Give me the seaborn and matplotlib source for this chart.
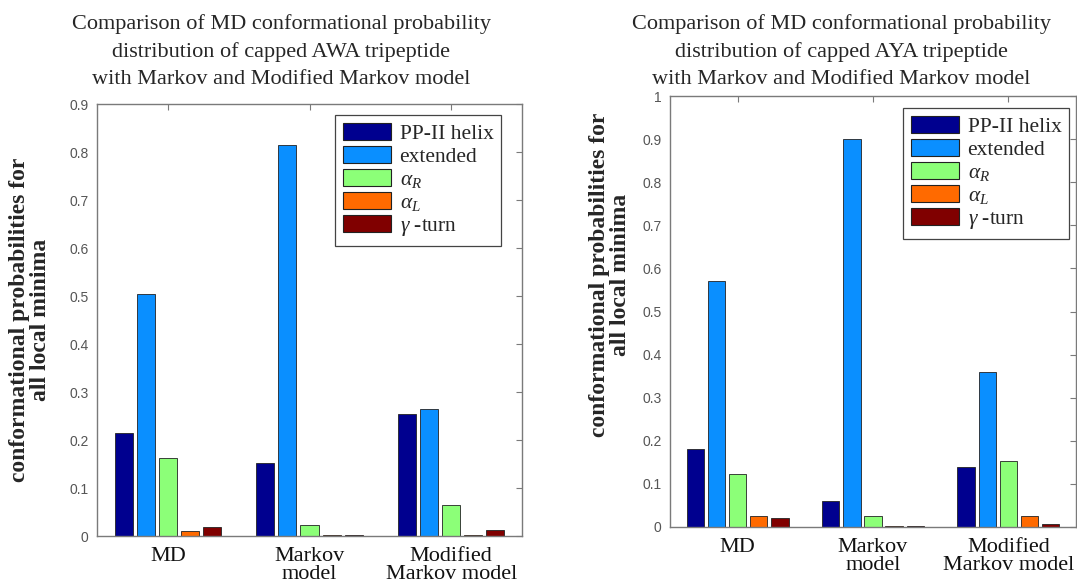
import matplotlib
matplotlib.use("Agg")
import matplotlib.pyplot as plt
from matplotlib.patches import Patch
from matplotlib.ticker import FuncFormatter
import seaborn as sns
import pandas as pd

# Models compared (x groups) and conformational states (hue)
models = ["MD", "Markov\nmodel", "Modified\nMarkov model"]
states = ["PP-II helix", "extended", r"$\alpha_R$", r"$\alpha_L$", r"$\gamma$ -turn"]

# Probabilities per state, one list per model (AWA tripeptide)
awa_md = [0.215, 0.505, 0.163, 0.010, 0.018]
awa_markov = [0.152, 0.815, 0.023, 0.003, 0.003]
awa_modified = [0.255, 0.265, 0.065, 0.003, 0.012]

# Probabilities per state, one list per model (AYA tripeptide)
aya_md = [0.182, 0.570, 0.123, 0.025, 0.022]
aya_markov = [0.060, 0.900, 0.025, 0.003, 0.003]
aya_modified = [0.140, 0.360, 0.153, 0.025, 0.008]

colors = ["#00008F", "#0A8FFF", "#8CFF78", "#FF6A00", "#800000"]

titles = [
    "Comparison of MD conformational probability\ndistribution of capped AWA tripeptide\nwith Markov and Modified Markov model",
    "Comparison of MD conformational probability\ndistribution of capped AYA tripeptide\nwith Markov and Modified Markov model",
]
ylabel = "conformational probabilities for\nall local minima"


def to_frame(per_model):
    rows = []
    for m, vals in zip(models, per_model):
        for s, v in zip(states, vals):
            rows.append({"model": m, "state": s, "prob": v})
    return pd.DataFrame(rows)


sns.set_theme(style="white")
plt.rcParams["font.family"] = ["Liberation Serif", "DejaVu Serif"]
plt.rcParams["mathtext.fontset"] = "custom"
plt.rcParams["mathtext.rm"] = "Liberation Serif"
plt.rcParams["mathtext.it"] = "Liberation Serif:italic"

W, H = 1077, 587
fig = plt.figure(figsize=(W / 100, H / 100), dpi=100)
ax1 = fig.add_axes([97 / W, (H - 536) / H, (522 - 97) / W, (536 - 104) / H])
ax2 = fig.add_axes([670 / W, (H - 527) / H, (1076 - 670) / W, (527 - 96) / H])

specs = [
    # axes, data, ymax, yticks, title, title centre x, legend box (left, top), ylabel centre (x, y)
    (ax1, [awa_md, awa_markov, awa_modified], 0.9, [i / 10 for i in range(10)], titles[0], 281, (335, 115), (30, 320)),
    (ax2, [aya_md, aya_markov, aya_modified], 1.0, [i / 10 for i in range(11)], titles[1], 841, (903, 108), (610, 275)),
]

spine_col = "#7a7a7a"
tick_col = "#555555"

for ax, data, ymax, yticks, title, tx, leg_xy, yl_xy in specs:
    df = to_frame(data)
    sns.barplot(
        data=df, x="model", y="prob", hue="state", order=models, hue_order=states,
        palette=colors, width=0.78, gap=0.18, ax=ax, legend=False,
        edgecolor="#222222", linewidth=0.6, saturation=1,
    )
    ax.set_xlim(-0.5, 2.5)
    ax.set_ylim(0, ymax)
    ax.set_yticks(yticks)
    ax.yaxis.set_major_formatter(FuncFormatter(lambda v, p: f"{v:g}"))
    ax.set_xlabel("")
    ax.set_ylabel("")
    fig.text(yl_xy[0] / W, 1 - yl_xy[1] / H, ylabel, rotation=90, ha="center", va="center",
             fontsize=17, fontweight="bold", linespacing=1.05)
    fig.text(tx / W, 1 - 14 / H, title, ha="center", va="top",
             fontsize=16, linespacing=1.55)
    for sp in ax.spines.values():
        sp.set_visible(True)
        sp.set_color(spine_col)
        sp.set_linewidth(1.0)
    ax.tick_params(axis="both", direction="in", top=True, right=True,
                   length=4, width=0.8, color=spine_col)
    ax.tick_params(axis="y", labelsize=10, labelcolor=tick_col, pad=6)
    ax.tick_params(axis="x", labelsize=16, labelcolor="#111111", pad=8)
    for lab in ax.get_yticklabels():
        lab.set_family(["Liberation Sans", "DejaVu Sans"])
    for lab in ax.get_xticklabels():
        lab.set_linespacing(0.95)

    handles = [Patch(facecolor=c, edgecolor="#222222", linewidth=0.8) for c in colors]
    lx, ly = leg_xy
    leg = ax.legend(
        handles, states, loc="upper left",
        bbox_to_anchor=(lx / W, 1 - ly / H), bbox_transform=fig.transFigure,
        fontsize=15.5, frameon=True, fancybox=False, framealpha=1,
        edgecolor="#444444", handlelength=2.25, handleheight=0.85,
        handletextpad=0.4, labelspacing=0.1, borderpad=0.35, borderaxespad=0,
    )
    leg.get_frame().set_linewidth(0.9)

fig.savefig("out.png", dpi=100, facecolor="white")
